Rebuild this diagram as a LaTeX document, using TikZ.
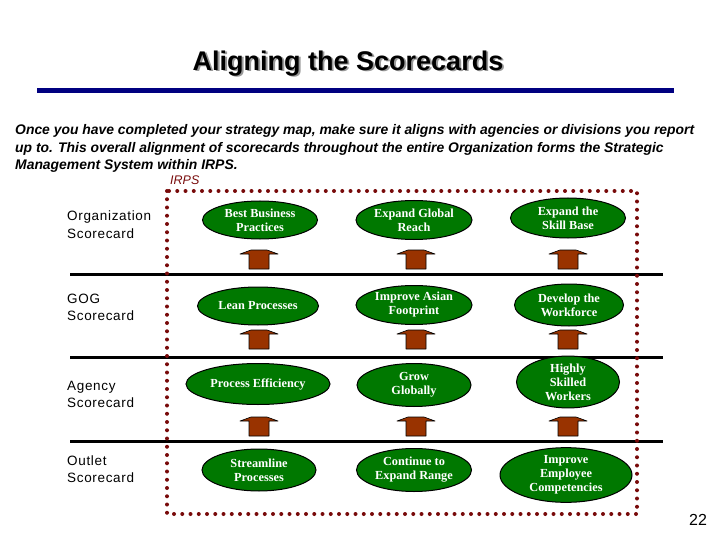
\documentclass[tikz,border=0pt]{standalone}
\usepackage{fontspec}
\setmainfont{Liberation Sans}
\newfontfamily\tnr{Liberation Serif}
\newfontfamily\lblfont{Liberation Sans}[LetterSpace=5]
\usetikzlibrary{shapes.geometric}
\definecolor{titleblue}{RGB}{0,0,128}
\definecolor{goalgreen}{RGB}{0,120,0}
\definecolor{arrowbrown}{RGB}{153,51,0}
\definecolor{dotred}{RGB}{120,10,10}
\tikzset{
  goal/.style={ellipse, draw=black, line width=1pt, fill=goalgreen, text=white,
    font=\tnr\bfseries\fontsize{12.3}{14}\selectfont, align=center, inner sep=0pt},
  rowlbl/.style={anchor=base west, inner sep=0pt, font=\lblfont\fontsize{13.5}{15}\selectfont},
  bodytxt/.style={anchor=base west, inner sep=0pt, font=\bfseries\itshape\fontsize{13.9}{16}\selectfont},
  sepline/.style={line width=3pt, black},
  uparrow/.pic={\draw[fill=arrowbrown, line width=0.6pt, line join=round]
     (-19,4) -- (-8,0) -- (8,0) -- (19,4) -- (10,4) -- (10,19) -- (-10,19) -- (-10,4) -- cycle;}
}
\newcommand{\titletext}{Aligning the Scorecards}
\begin{document}
\begin{tikzpicture}[x=1pt,y=-1pt]
\useasboundingbox (0,0) rectangle (720,540);
% title with drop shadow
\node[text=black, font=\bfseries\fontsize{27}{30}\selectfont] (title) at (348,64)
  {\makebox[0pt][l]{\hspace{1.8pt}\raisebox{-1.8pt}{\color{black!40}\titletext}}\titletext};
\draw[titleblue, line width=5pt] (37,90.5) -- (674,90.5);
% body
\node[bodytxt] (b1) at (15,135) {Once you have completed your strategy map, make sure it aligns with agencies or divisions you report};
\node[bodytxt] (b2) at (15,152.5) {up to. This overall alignment of scorecards throughout the entire Organization forms the Strategic};
\node[bodytxt] (b3) at (15,170) {Management System within IRPS.};
\node[anchor=base west, inner sep=0pt, text=dotred, font=\itshape\fontsize{12.5}{14}\selectfont] (irps) at (170,184.5) {IRPS};
% separator lines
\draw[sepline] (70,274) -- (663,274);
\draw[sepline] (70,357) -- (663,357);
\draw[sepline] (70,441) -- (663,441);
% dotted border
\draw[dotred, line width=4pt, line cap=round, dash pattern=on 0pt off 8.25pt] (167,191) rectangle (637,514);
% row labels
\node[rowlbl] (l1a) at (67,221) {Organization};
\node[rowlbl] (l1b) at (67,238) {Scorecard};
\node[rowlbl] (l2a) at (67,303) {GOG};
\node[rowlbl] (l2b) at (67,320) {Scorecard};
\node[rowlbl] (l3a) at (67,390) {Agency};
\node[rowlbl] (l3b) at (67,407) {Scorecard};
\node[rowlbl] (l4a) at (67,465) {Outlet};
\node[rowlbl] (l4b) at (67,482) {Scorecard};
% goals row 1
\node[goal, minimum width=115pt, minimum height=38pt] (g11) at (260,220) {Best Business\\Practices};
\node[goal, minimum width=116pt, minimum height=39pt] (g12) at (414,220) {Expand Global\\Reach};
\node[goal, minimum width=115pt, minimum height=40pt] (g13) at (568,218) {Expand the\\Skill Base};
% row 2
\node[goal, minimum width=121pt, minimum height=38pt] (g21) at (258,306) {Lean Processes};
\node[goal, minimum width=116pt, minimum height=39pt] (g22) at (414,305) {Improve Asian\\Footprint};
\node[goal, minimum width=109pt, minimum height=42pt] (g23) at (569,305) {Develop the\\Workforce};
% row 3
\node[goal, minimum width=144pt, minimum height=41pt] (g31) at (258,384) {Process Efficiency};
\node[goal, minimum width=114pt, minimum height=43pt] (g32) at (414,385) {Grow\\Globally};
\node[goal, minimum width=103pt, minimum height=40pt] (g33) at (568,382) {Highly\\Skilled\\Workers};
% row 4
\node[goal, minimum width=114pt, minimum height=42pt] (g41) at (259,470) {Streamline\\Processes};
\node[goal, minimum width=115pt, minimum height=43pt] (g42) at (414,470) {Continue to\\Expand Range};
\node[goal, minimum width=132pt, minimum height=51pt] (g43) at (566,475) {Improve\\Employee\\Competencies};
% arrows
\foreach \ax in {259,416,568}{
  \pic at (\ax,250) {uparrow};
  \pic at (\ax,330) {uparrow};
  \pic at (\ax,417) {uparrow};
}
% page number
\node[font=\fontsize{16}{18}\selectfont] (pagenum) at (698,520) {22};
\end{tikzpicture}
\end{document}
